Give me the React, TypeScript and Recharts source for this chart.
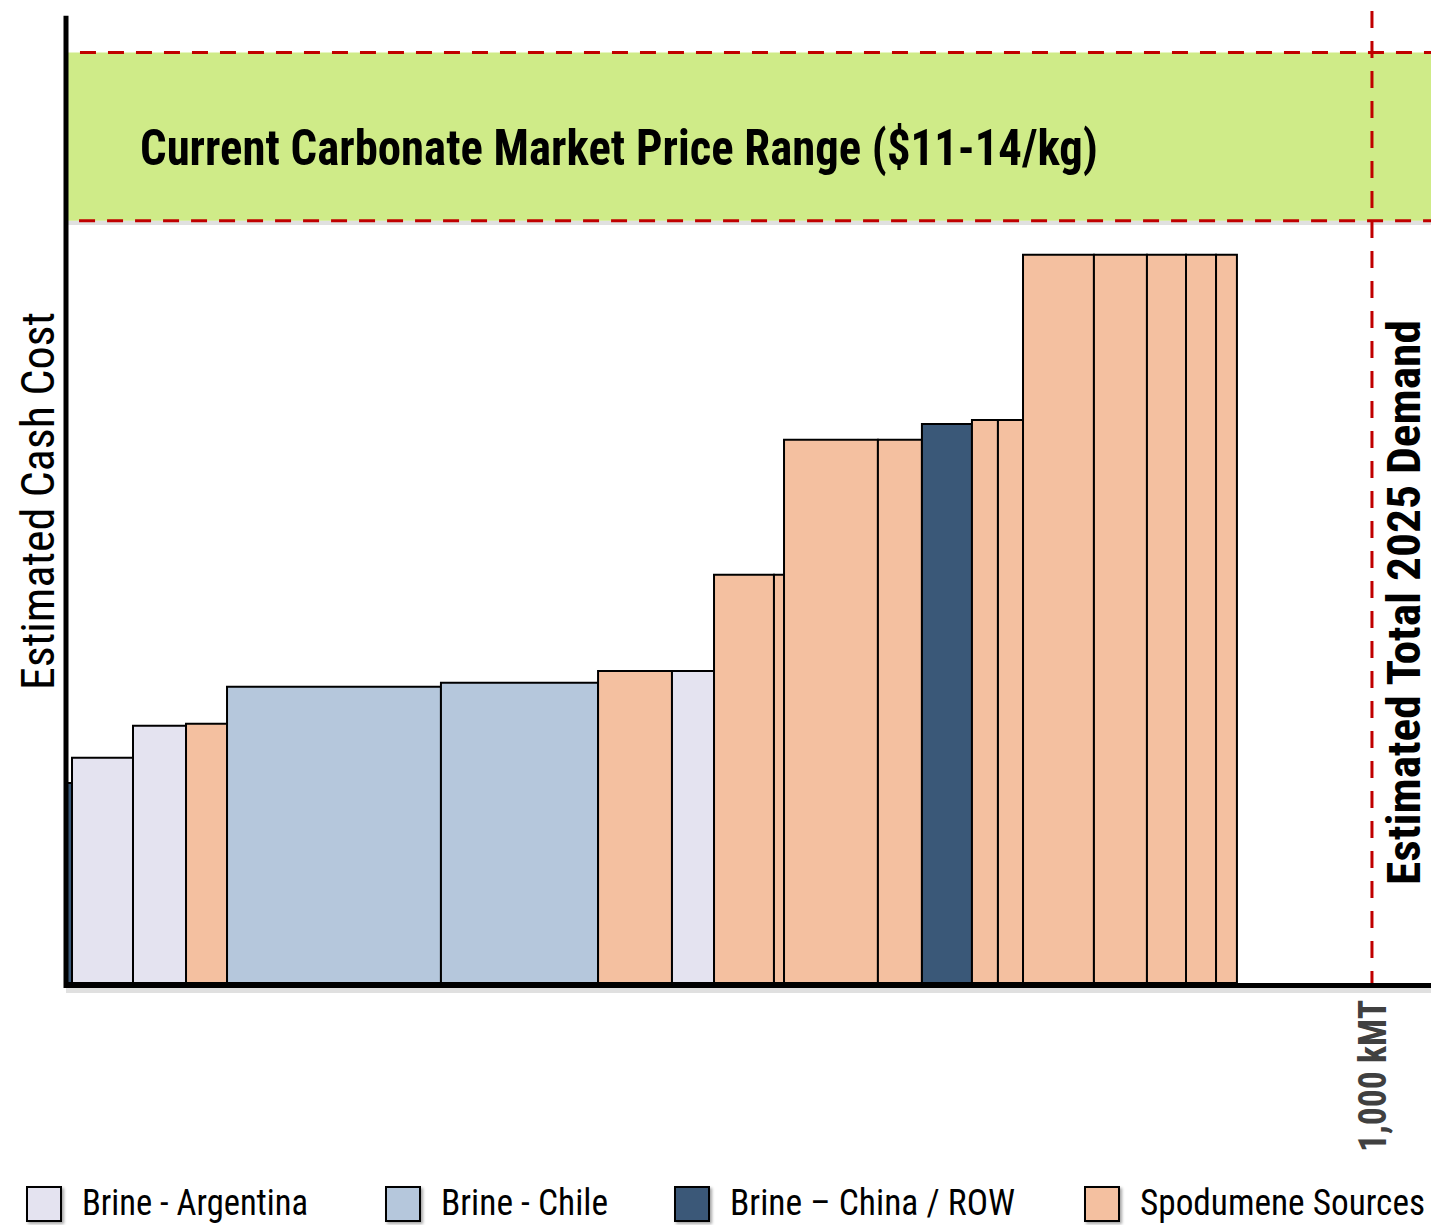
import {
  ComposedChart,
  Line,
  XAxis,
  YAxis,
  ReferenceArea,
  ReferenceLine,
} from "recharts";

// supply sources, left to right along the cost curve
const sources = [
  "China", "Argentina", "Argentina", "Spodumene", "Chile", "Chile", "Spodumene",
  "Argentina", "Spodumene", "Spodumene", "Spodumene", "Spodumene", "China",
  "Spodumene", "Spodumene", "Spodumene", "Spodumene", "Spodumene", "Spodumene", "Spodumene",
];
// capacity of each block, kMT
const capacity = [
  4.6, 46.7, 40.6, 31.4, 163.8, 120.3, 56.6, 32.2, 45.9, 7.7,
  71.9, 33.7, 38.3, 19.9, 19.2, 54.3, 40.6, 29.9, 23.0, 16.0,
];
// estimated cash cost (chart units)
const cashCost = [
  3.57, 4.02, 4.59, 4.63, 5.29, 5.36, 5.57, 5.57, 7.29, 7.29,
  9.7, 9.7, 9.98, 10.05, 10.05, 13.0, 13.0, 13.0, 13.0, 13.0,
];

const priceBand = [13.61, 16.61];
const demand = 1000;
const xMax = 1045.2;

const legendNames = ["Brine - Argentina", "Brine - Chile", "Brine \u2013 China / ROW", "Spodumene Sources"];
const legendKeys = ["Argentina", "Chile", "China", "Spodumene"];
const colors: Record<string, string> = {
  Argentina: "#E4E3F0",
  Chile: "#B5C7DC",
  China: "#3A5878",
  Spodumene: "#F4C0A0",
};

const FONT = '"Liberation Sans Narrow", "Roboto Condensed", "Liberation Sans", Arial, sans-serif';
const RED = "#C00000";

let cum = 0;
const blocks = capacity.map((c, i) => {
  const start = cum;
  cum += c;
  return { start, end: cum, mid: start + c / 2, cost: cashCost[i], source: sources[i] };
});

const legendBoxX = [27, 386, 675, 1085];
const legendTextX = [82, 441, 730, 1140];
const legendTextLen = [226, 167, 285, 285];

function DemandTick(props: any) {
  const { x, y } = props;
  return (
    <g transform={`translate(${x + 14}, ${y + 12}) rotate(-90)`}>
      <text
        x={0}
        y={0}
        textAnchor="end"
        fontFamily={FONT}
        fontWeight="bold"
        fontSize={39}
        fill="#404040"
        textLength={152}
        lengthAdjust="spacingAndGlyphs"
      >
        1,000 kMT
      </text>
    </g>
  );
}

export default function App() {
  return (
    <div style={{ position: "absolute", left: 0, top: 0, width: 1431, height: 1225, background: "#fff" }}>
      <ComposedChart
        width={1431}
        height={1160}
        data={blocks}
        margin={{ top: 5, right: 0, bottom: 0, left: 0 }}
      >
        <XAxis
          dataKey="mid"
          type="number"
          domain={[0, xMax]}
          ticks={[demand]}
          axisLine={false}
          tickLine={false}
          tickSize={0}
          tickMargin={0}
          height={172}
          tick={<DemandTick />}
          interval={0}
        />
        <YAxis
          type="number"
          domain={[-0.09, 17.46]}
          width={66}
          tick={false}
          axisLine={false}
          tickLine={false}
          label={(p: any) => (
            <g transform="translate(54, 690) rotate(-90)">
              <text
                x={0}
                y={0}
                textAnchor="start"
                fontFamily={FONT}
                fontSize={46}
                fill="#000"
                textLength={378}
                lengthAdjust="spacingAndGlyphs"
              >
                Estimated Cash Cost
              </text>
            </g>
          )}
        />
        <Line dataKey="cost" stroke="none" dot={false} activeDot={false} isAnimationActive={false} />

        <ReferenceArea
          x1={0}
          x2={xMax}
          y1={priceBand[0] - 0.08}
          y2={priceBand[0]}
          fill="#000"
          fillOpacity={0.12}
          stroke="none"
        />
        <ReferenceArea
          x1={0}
          x2={xMax}
          y1={priceBand[0]}
          y2={priceBand[1]}
          fill="#CFEB88"
          fillOpacity={1}
          stroke="none"
          label={(p: any) => (
            <text
              x={140}
              y={165}
              fontFamily={FONT}
              fontWeight="bold"
              fontSize={50}
              fill="#000"
              textLength={958}
              lengthAdjust="spacingAndGlyphs"
            >
              Current Carbonate Market Price Range ($11-14/kg)
            </text>
          )}
        />
        <ReferenceLine
          segment={[{ x: 10.7, y: priceBand[1] }, { x: xMax, y: priceBand[1] }]}
          stroke={RED}
          strokeWidth={3}
          strokeDasharray="16 12"
        />
        <ReferenceLine
          segment={[{ x: 10, y: priceBand[0] }, { x: xMax, y: priceBand[0] }]}
          stroke={RED}
          strokeWidth={3}
          strokeDasharray="16 12"
        />

        {blocks.map((b, i) => (
          <ReferenceArea
            key={i}
            x1={b.start}
            x2={b.end}
            y1={0}
            y2={b.cost}
            fill={colors[b.source]}
            fillOpacity={1}
            stroke="#000"
            strokeWidth={2}
          />
        ))}

        <ReferenceLine
          x={demand}
          stroke={RED}
          strokeWidth={3}
          strokeDasharray="17 13"
          label={(p: any) => (
            <g transform="translate(1420, 885) rotate(-90)">
              <text
                x={0}
                y={0}
                textAnchor="start"
                fontFamily={FONT}
                fontWeight="bold"
                fontSize={46}
                fill="#000"
                textLength={565}
                lengthAdjust="spacingAndGlyphs"
              >
                Estimated Total 2025 Demand
              </text>
            </g>
          )}
        />

        <ReferenceArea
          x1={0}
          x2={xMax}
          y1={-0.18}
          y2={-0.09}
          fill="#000"
          fillOpacity={0.12}
          stroke="none"
          ifOverflow="visible"
        />
        <ReferenceLine
          segment={[{ x: 0, y: -0.045 }, { x: xMax, y: -0.045 }]}
          stroke="#000"
          strokeWidth={5}
          ifOverflow="visible"
        />
        <ReferenceLine
          segment={[{ x: 0, y: -0.09 }, { x: 0, y: 17.27 }]}
          stroke="#000"
          strokeWidth={5}
          ifOverflow="visible"
        />
      </ComposedChart>

      <svg width={1431} height={65} style={{ position: "absolute", left: 0, top: 1160, overflow: "visible" }}>
        <defs>
          <filter id="legShadow" x="-20%" y="-20%" width="150%" height="150%">
            <feDropShadow dx={2} dy={2} stdDeviation={1.5} floodColor="#000" floodOpacity={0.35} />
          </filter>
        </defs>
        {legendKeys.map((k, i) => (
          <g key={k}>
            <rect
              x={legendBoxX[i]}
              y={27}
              width={34}
              height={34}
              fill={colors[k]}
              stroke="#000"
              strokeWidth={2}
              filter="url(#legShadow)"
            />
            <text
              x={legendTextX[i]}
              y={55}
              fontFamily={FONT}
              fontSize={36}
              fill="#000"
              textLength={legendTextLen[i]}
              lengthAdjust="spacingAndGlyphs"
            >
              {legendNames[i]}
            </text>
          </g>
        ))}
      </svg>
    </div>
  );
}
